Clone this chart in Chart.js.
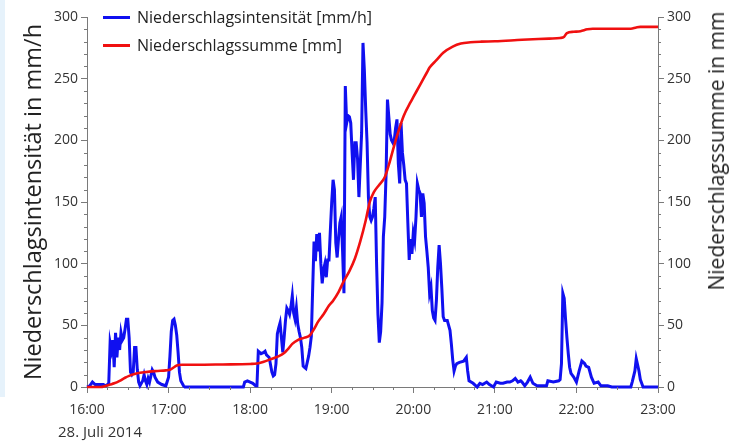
<!DOCTYPE html>
<html>
<head>
<meta charset="utf-8">
<script src="https://cdn.jsdelivr.net/npm/chart.js@4.4.1/dist/chart.umd.min.js"></script>
<style>
  html, body { margin: 0; padding: 0; background: #fff; }
  #wrap { position: relative; width: 731px; height: 441px; overflow: hidden; font-family: 'Open Sans', sans-serif; color: #222; }
  #edge { position: absolute; left: 0; top: 0; width: 5px; height: 397px; background: #e6f2fb; }
  .leg { position: absolute; left: 103px; font-size: 16px; line-height: 18px; white-space: nowrap; }
  .leg span.ln { display: inline-block; width: 27px; height: 0; border-top: 3px solid; vertical-align: middle; margin-right: 7px; position: relative; top: -1px; }
  #rtitle { position: absolute; left: 716px; top: 151px; font-size: 21px; white-space: nowrap; transform: translate(-50%, -50%) rotate(-90deg); }
  #date { position: absolute; left: 58px; top: 422px; font-size: 15px; line-height: 18px; color: #333; }
</style>
</head>
<body>
<div id="wrap">
  <div id="edge"></div>
  <canvas id="chart" width="731" height="441"></canvas>
  <div class="leg" style="top:8px"><span class="ln" style="border-color:#1010f0"></span>Niederschlagsintensität [mm/h]</div>
  <div class="leg" style="top:36px"><span class="ln" style="border-color:#f01010"></span>Niederschlagssumme [mm]</div>
  <div id="rtitle">Niederschlagssumme in mm</div>
  <div id="date">28. Juli 2014</div>
</div>
<script>
// minutes after 16:00
const intensityTime = [0, 2, 4, 6, 9, 12, 14, 16, 17, 18, 19, 20, 21, 22, 23, 24, 25, 26, 27, 28, 29, 30, 31, 32, 33, 34, 35, 36, 37, 38, 39, 41, 42, 43, 44, 45, 46, 47, 48, 49, 50, 52, 55, 58, 60, 61, 62, 63, 64, 65, 66, 67, 68, 69, 71, 72,
  115, 116, 118, 120, 122, 124, 125, 126, 128, 130, 131, 132, 134, 135, 136, 137, 138, 139, 140, 141, 142, 143, 144, 145, 146, 147, 148, 149, 150, 151, 152, 153, 154, 155, 156, 157, 158, 159, 160, 161, 162, 163, 164, 165,
  166, 167, 168, 169, 170, 171, 172, 173, 174, 175, 176, 177, 178, 179, 180, 181, 182, 183, 184, 185, 186, 187, 188, 189, 190, 191, 192, 193, 194, 195, 196, 197, 198, 199, 200, 201, 202, 203, 204, 205, 206, 207, 208, 209, 210,
  211, 212, 213, 214, 215, 216, 217, 218, 219, 220, 221, 222, 223, 224, 225, 226, 227, 228, 229, 230, 231, 232, 233, 234, 235, 236, 237, 238, 239, 240, 241, 242, 243, 244, 245, 246, 247, 248, 249, 250, 251, 252, 253, 254, 255,
  256, 257, 258, 259, 260, 261, 262, 263, 265, 266, 267, 268, 269, 270, 271, 272, 274, 277, 279, 280, 281, 284, 287, 289, 291, 294, 296, 299, 301, 304, 306, 309, 311, 313, 315, 317, 319, 320, 322, 324, 326, 328, 331, 334, 338,
  339, 343, 347, 348, 349, 350, 351, 352, 353, 354, 355, 356, 358, 360, 362, 364, 366, 367, 369, 371, 373, 376, 378, 383, 386, 400, 401, 403, 404, 405, 406, 407, 408, 409, 420];
const intensity = [0, 1, 4, 2, 2, 2, 1, 3, 36, 30, 38, 16, 44, 24, 40, 30, 44, 38, 40, 47, 55, 55, 40, 12, 10, 12, 32, 32, 14, 4, 1, 5, 10, 5, 2, 7, 4, 9, 14, 12, 8, 4, 2, 1, 8, 25, 45, 54, 55, 50, 42, 28, 12, 5, 1, 0,
  0, 4, 5, 4, 3, 1, 1, 29, 27, 28, 29, 26, 24, 18, 12, 9, 10, 19, 43, 48, 52, 40, 28, 40, 54, 64, 62, 59, 65, 74, 60, 55, 64, 51, 45, 40, 32, 17, 16, 15, 20, 25, 32, 41,
  80, 118, 102, 124, 110, 125, 100, 84, 95, 100, 89, 103, 103, 127, 150, 168, 160, 117, 105, 120, 133, 138, 110, 76, 244, 214, 220, 219, 214, 190, 168, 198, 198, 185, 154, 180, 206, 279, 257, 225, 198, 154, 138, 135, 138,
  145, 154, 100, 59, 36, 45, 68, 122, 138, 173, 233, 219, 205, 200, 198, 200, 210, 217, 181, 165, 214, 190, 180, 168, 165, 133, 103, 120, 108, 125, 119, 138, 165, 160, 157, 138, 157, 149, 122, 110, 97, 76, 81, 62, 56,
  54, 70, 97, 115, 100, 80, 57, 54, 54, 50, 46, 35, 22, 13, 17, 19, 20, 21, 24, 13, 5, 3, 0, 3, 2, 4, 2, 0, 4, 3, 3, 4, 4, 5, 7, 4, 5, 4, 1, 4, 8, 3, 1, 1, 1,
  5, 4, 5, 6, 19, 76, 72, 55, 40, 27, 16, 11, 8, 4, 13, 21, 19, 17, 16, 8, 3, 4, 1, 1, 0, 0, 4, 13, 23, 18, 13, 6, 3, 0, 0];

const totalTime = [0, 10, 14, 17, 20, 24, 28, 31, 35, 39, 46, 52, 58, 61, 64, 66, 70, 80, 100, 120, 125, 130, 135, 140, 145, 148, 151, 155, 160, 164, 167, 170, 174, 178, 181, 185, 189, 193, 197, 201, 205,
  208, 211, 215, 219, 222, 226, 229, 233, 238, 240, 245, 250, 252, 257, 262, 269, 275, 282, 290, 300, 320, 340, 348, 351, 353, 358, 363, 368, 372, 400, 404, 407, 420];
const total = [0, 0, 1, 2, 3, 5, 7.5, 9, 10.5, 11.5, 12.5, 13, 13.5, 14, 16, 17.5, 18, 18, 18.3, 18.7, 19, 20.5, 22.5, 24.5, 27.5, 31, 35, 38, 40, 42, 47, 53, 59, 66, 70, 77, 86, 94, 104, 118, 135,
  150, 158, 164, 170, 180, 196, 207, 220, 231, 235, 245, 255, 259, 265, 271, 276, 278.5, 279.5, 280, 280.3, 281.5, 282.5, 283, 284, 287, 288, 288.5, 290, 290.5, 290.5, 291.5, 292, 292];

const hourLabels = ['16:00', '17:00', '18:00', '19:00', '20:00', '21:00', '22:00', '23:00'];

const toPoints = (xs, ys) => xs.map((x, i) => ({ x: x, y: ys[i] }));

const tickFont = { family: 'Open Sans', size: 14 };
const axisGray = '#7a7a7a';

// short minor ticks (every 10 mm, every 15 min)
const minorTicks = {
  id: 'minorTicks',
  afterDraw(chart) {
    const ctx = chart.ctx;
    const area = chart.chartArea;
    const y = chart.scales.y, x = chart.scales.x;
    ctx.save();
    ctx.strokeStyle = axisGray;
    ctx.lineWidth = 1;
    ctx.beginPath();
    for (let v = 10; v < 300; v += 10) {
      if (v % 50 === 0) continue;
      const py = Math.round(y.getPixelForValue(v)) + 0.5;
      ctx.moveTo(area.left - 3, py); ctx.lineTo(area.left, py);
      ctx.moveTo(area.right, py); ctx.lineTo(area.right + 3, py);
    }
    for (let m = 15; m < 420; m += 15) {
      if (m % 60 === 0) continue;
      const px = Math.round(x.getPixelForValue(m)) + 0.5;
      ctx.moveTo(px, area.bottom); ctx.lineTo(px, area.bottom + 3);
    }
    ctx.stroke();
    ctx.restore();
  }
};

new Chart(document.getElementById('chart'), {
  type: 'line',
  data: {
    datasets: [
      {
        label: 'Niederschlagsintensität [mm/h]',
        data: toPoints(intensityTime, intensity),
        yAxisID: 'y',
        borderColor: '#1010f0',
        borderWidth: 3,
        pointRadius: 0,
        tension: 0,
        clip: false,
        order: 1
      },
      {
        label: 'Niederschlagssumme [mm]',
        data: toPoints(totalTime, total),
        yAxisID: 'y2',
        borderColor: '#f01010',
        borderWidth: 2.6,
        pointRadius: 0,
        cubicInterpolationMode: 'monotone',
        clip: false,
        order: 0
      }
    ]
  },
  options: {
    responsive: false,
    animation: false,
    layout: { padding: { top: 17, left: 0, right: 0, bottom: 0 } },
    plugins: { legend: { display: false }, tooltip: { enabled: false } },
    scales: {
      x: {
        type: 'linear',
        min: 0,
        max: 420,
        afterFit: (s) => { s.height = 54; },
        afterBuildTicks: (s) => { s.ticks = hourLabels.map((l, i) => ({ value: i * 60 })); },
        ticks: {
          color: '#333',
          font: tickFont,
          padding: 9,
          maxRotation: 0,
          callback: (v) => hourLabels[v / 60]
        },
        grid: { drawOnChartArea: false, tickLength: 6, tickColor: axisGray },
        border: { color: axisGray, width: 1 }
      },
      y: {
        position: 'left',
        min: 0,
        max: 300,
        afterFit: (s) => { s.width = 87; },
        ticks: { stepSize: 50, color: '#333', font: tickFont, padding: 3 },
        grid: { drawOnChartArea: false, tickLength: 6, tickColor: axisGray },
        border: { color: axisGray, width: 1 },
        title: {
          display: true,
          text: 'Niederschlagsintensität in mm/h',
          color: '#222',
          font: { family: 'Open Sans', size: 23.5 },
          padding: { top: 20, bottom: 0 }
        }
      },
      y2: {
        position: 'right',
        min: 0,
        max: 300,
        afterFit: (s) => { s.width = 73; },
        ticks: { stepSize: 50, color: '#333', font: tickFont, padding: 3 },
        grid: { drawOnChartArea: false, tickLength: 6, tickColor: axisGray },
        border: { color: axisGray, width: 1 }
      }
    }
  },
  plugins: [minorTicks]
});
</script>
</body>
</html>
